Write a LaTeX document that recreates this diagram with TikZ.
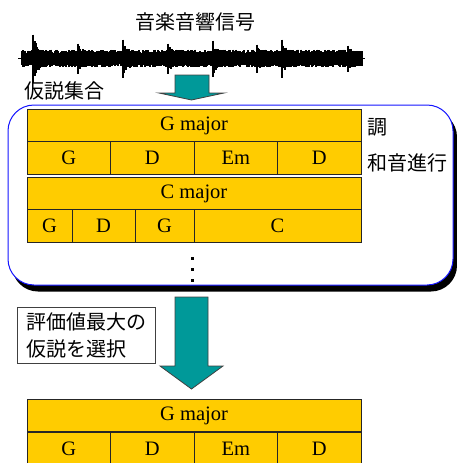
\documentclass[tikz,border=0pt]{standalone}
\usepackage{fontspec}
\setmainfont{Liberation Serif}
\newfontfamily\jpfont{Noto Sans CJK JP}

\definecolor{chordgold}{RGB}{255,204,0}
\definecolor{arrowteal}{RGB}{0,153,153}
\definecolor{setblue}{RGB}{20,20,255}

\tikzset{
    cell/.style={draw=black!85, fill=chordgold, rectangle, line width=0.8pt,
        minimum height=32.5pt, inner sep=0pt, font=\fontsize{20.5}{24}\selectfont},
    jplabel/.style={inner sep=0pt, font=\jpfont\fontsize{20}{27}\selectfont},
    blockarrow/.style={draw=black!75, fill=arrowteal, line width=0.8pt, line join=miter},
}

\begin{document}
\begin{tikzpicture}[x=1pt, y=-1pt]
        \useasboundingbox (0,0) rectangle (457,463);
        \pgfmathsetseed{41}

        % Draw the signal
        \node[jplabel] (signal) at (195,22) {音楽音響信号};
        \draw[line width=0.6pt] (18,58.5) -- (365,58.5);
        \foreach \x in {22,...,358} {
            \pgfmathsetmacro{\up}{5.5+3.5*rnd}
            \pgfmathsetmacro{\dn}{5.5+3.5*rnd}
            \draw[line width=1.4pt] (\x,58.5-\up) -- (\x,58.5+\dn);
        }
        \foreach \s/\h in {33/24, 78/15, 123/19, 168/15, 213/18, 257/14, 282/19, 348/13} {
            \draw[line width=1.2pt] (\s,58.5-\h) -- (\s,58.5+\h);
            \foreach \k in {1,...,14} {
                \pgfmathsetmacro{\up}{7+(\h-8)*0.8^\k*rnd}
                \pgfmathsetmacro{\dn}{7+(\h-8)*0.8^\k*rnd}
                \draw[line width=1.4pt] (\s+\k,58.5-\up) -- (\s+\k,58.5+\dn);
            }
        }

        % Draw the arrow into the hypothesis set
        \node[jplabel, anchor=west] (setlabel) at (24,91) {仮説集合};
        \draw[blockarrow] (175,75) -- (209,75) -- (209,93) -- (224,93) -- (191.5,100)
            -- (159,93) -- (175,93) -- cycle;

        % Draw the hypothesis set
        \fill[black, rounded corners=26pt] (12,111) rectangle (457,291.5);
        \draw[setblue, fill=white, line width=1pt, rounded corners=26pt] (8,105) rectangle (453,285);

        % Draw the first hypothesis
        \node[cell, minimum width=334pt] (gkey) at (194,125.5) {G major};
        \node[cell, minimum width=83.5pt] (gchord1) at (68.75,158) {G};
        \node[cell, minimum width=83.5pt] (gchord2) at (152.25,158) {D};
        \node[cell, minimum width=83.5pt] (gchord3) at (235.75,158) {Em};
        \node[cell, minimum width=83.5pt] (gchord4) at (319.25,158) {D};

        \node[jplabel, anchor=west] (keylabel) at (367,127) {調};
        \node[jplabel, anchor=west] (chordlabel) at (367,163) {和音進行};

        % Draw the second hypothesis
        \node[cell, minimum width=334pt] (ckey) at (194,194) {C major};
        \node[cell, minimum width=45pt] (cchord1) at (49.5,226) {G};
        \node[cell, minimum width=63pt] (cchord2) at (103.5,226) {D};
        \node[cell, minimum width=59pt] (cchord3) at (164.5,226) {G};
        \node[cell, minimum width=167pt] (cchord4) at (277.5,226) {C};

        % vertical dots
        \foreach \y in {258,269,280}
            \fill (190.5,\y-1.5) rectangle (193.5,\y+1.5);

        % Draw the selection arrow
        \draw[blockarrow] (175,297) -- (208,297) -- (208,366) -- (223,366) -- (191.5,389)
            -- (160,366) -- (175,366) -- cycle;
        \node[draw=black!75, fill=white, line width=0.8pt, jplabel, inner xsep=7pt,
            minimum width=138pt, minimum height=56pt, align=left] (pickbox) at (86,335)
            {評価値最大の\\仮説を選択};

        % Draw the chosen hypothesis
        \node[cell, minimum width=334pt] (bestkey) at (194,415.5) {G major};
        \node[cell, minimum width=83.5pt] (bestchord1) at (68.75,448.5) {G};
        \node[cell, minimum width=83.5pt] (bestchord2) at (152.25,448.5) {D};
        \node[cell, minimum width=83.5pt] (bestchord3) at (235.75,448.5) {Em};
        \node[cell, minimum width=83.5pt] (bestchord4) at (319.25,448.5) {D};

    \end{tikzpicture}
\end{document}
